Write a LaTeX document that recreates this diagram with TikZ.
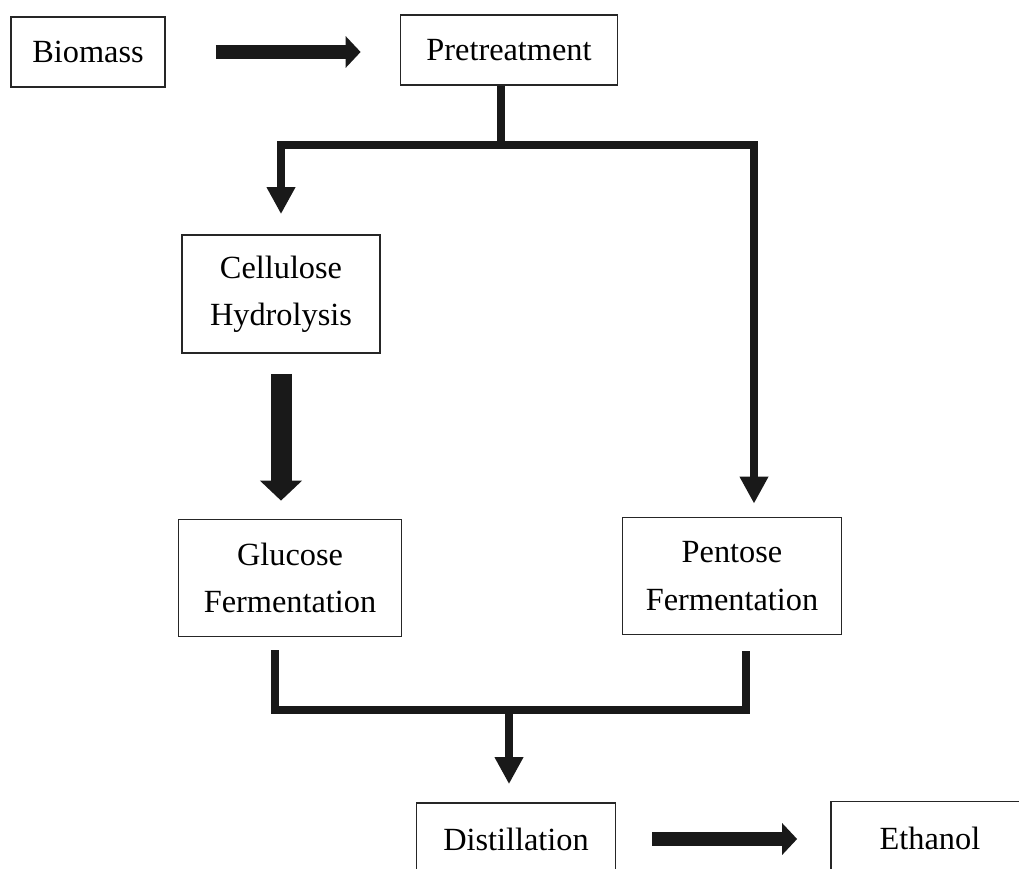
\documentclass[tikz,border=0pt]{standalone}
\usepackage{fontspec}
\setmainfont{Liberation Serif}
\usetikzlibrary{positioning,calc,arrows.meta}

\tikzset{
  stage/.style={draw=black!85,line width=1pt,align=center,inner sep=0pt,
    font=\fontsize{18.4}{27}\selectfont},
  flow/.style={draw=black!90,line width=1.7mm},
  flowarrow/.style={flow,-{Triangle[width=5.4mm,length=5.4mm]}},
  bigarrow/.style={draw=black!90,line width=2.9mm,-{Triangle[width=6.2mm,length=3mm]}},
  tallarrow/.style={draw=black!90,line width=4.2mm,-{Triangle[width=8.2mm,length=4mm]}}
}

\begin{document}
\begin{tikzpicture}[x=0.2mm,y=-0.2mm]
            \useasboundingbox (0,0) rectangle (1019,868);
            \clip (0,0) rectangle (1019,868);

            \node[stage,minimum width=30.8mm,minimum height=14mm] (bio) at (88,52) {Biomass};
            \node[stage,minimum width=43.4mm,minimum height=14mm] (pre) at (509,50) {Pretreatment};
            \node[stage,minimum width=39.6mm,minimum height=23.6mm] (cel) at (281,294) {Cellulose\\Hydrolysis};
            \node[stage,minimum width=44.6mm,minimum height=23.4mm] (glu) at (290,578) {Glucose\\Fermentation};
            \node[stage,minimum width=43.8mm,minimum height=23.4mm] (pen) at (732,576) {Pentose\\Fermentation};
            \node[stage,minimum width=39.8mm,minimum height=14.4mm] (dis) at (516,839) {Distillation};
            \node[stage,minimum width=39.6mm,minimum height=14.6mm] (eth) at (930,838) {Ethanol};

            \coordinate (split) at (501,145);
            \coordinate (merge) at (509,710);

            \draw[bigarrow,shorten <=10mm,shorten >=7.8mm] (bio.east) -- (bio.east -| pre.west);
            \draw[bigarrow,shorten <=7.2mm,shorten >=6.6mm] (dis.east) -- (dis.east -| eth.west);

            \draw[flow] (pre.south -| split) -- (split);
            \draw[flowarrow] (split) -| ($ (cel.north)+(0,-20) $);
            \draw[flowarrow] (split) -| ($ (pen.north)+(22,-13) $);

            \draw[tallarrow,shorten <=4mm,shorten >=3.6mm] (cel.south) -- (cel.south |- glu.north);

            \draw[flow] ($ (glu.south)+(-15,13) $) |- (merge) -| ($ (pen.south)+(14,16) $);
            \draw[flowarrow,shorten >=3.6mm] (merge) -- (merge |- dis.north);
        \end{tikzpicture}
\end{document}
